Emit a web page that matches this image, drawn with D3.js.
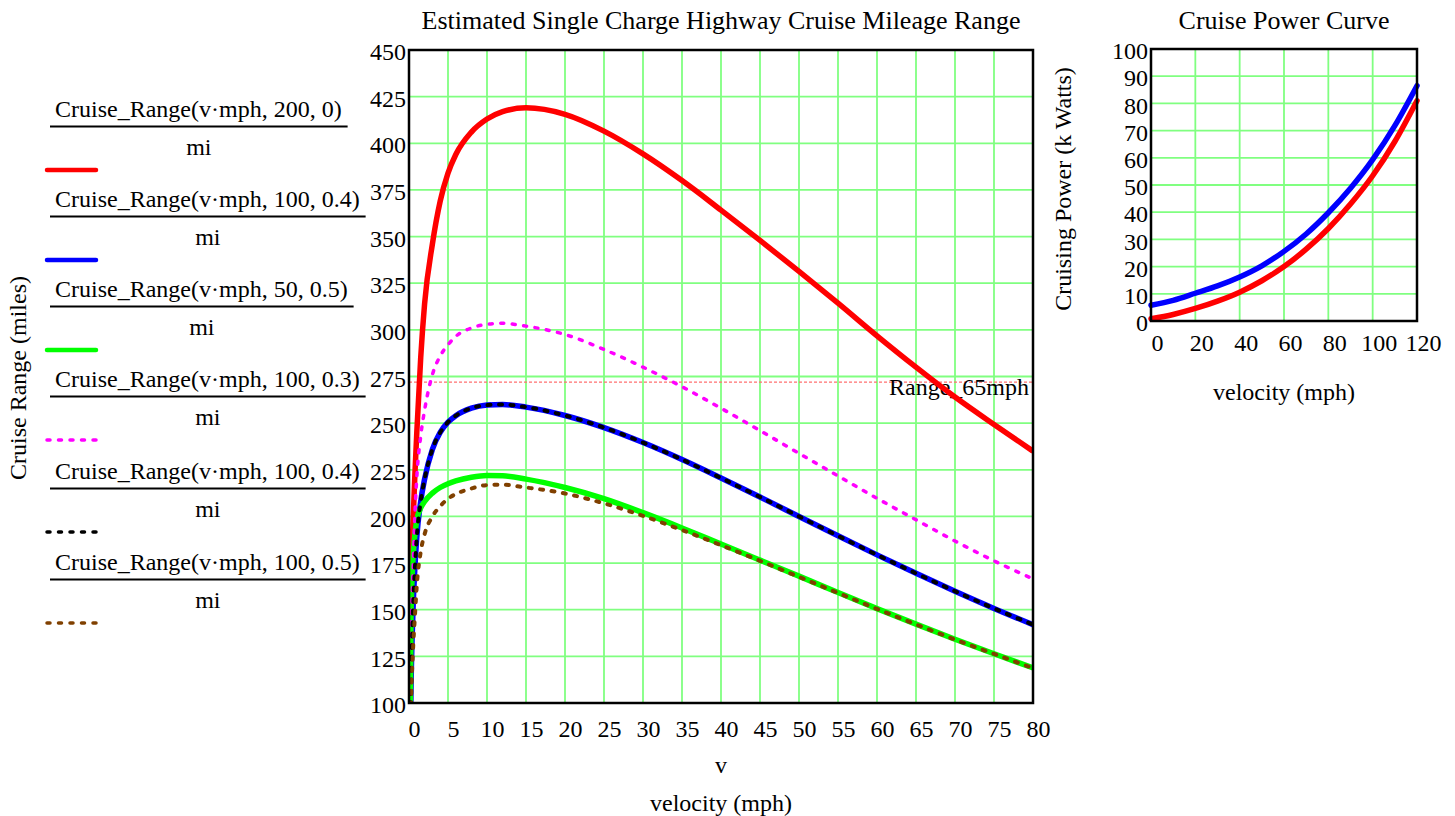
<!DOCTYPE html>
<html><head><meta charset="utf-8">
<script src="https://cdn.jsdelivr.net/npm/d3@7"></script>
<style>
html,body{margin:0;padding:0;background:#fff;}
svg{display:block;}
svg text{font-family:"Liberation Serif","Times New Roman",serif;fill:#000;}
</style></head><body>
<svg id="c" width="1455" height="816"></svg>
<script>
// ---------- DATA ----------
const vel = [0,0.25,0.5,0.75,1,1.5,2,3,4,5,6,8,10,12,15,20,25,30,35,40,45,50,55,60,65,70,75,80];
const rangeRed     = [0,160,195,222,245,285,314,346,369,384,394,406,413,417,419,415.5,406.5,394.3,380,364.2,348,331.3,314.3,296.8,280,264,249.3,235];
const rangeBlue    = [0,105,148,172,189,208,220,236,245,250.5,254,258,259.7,260,258.6,254.1,247.6,239.6,230.5,220.6,210.4,200,189.6,179.4,169.5,159.9,150.7,142];
const rangeGreen   = [0,145,176,190,198,204.5,208,212.5,215.5,217.5,219,221,222,221.8,220,215.5,209.5,202,193.8,185.2,176.6,168,159.2,150.6,142.3,134.2,126.4,118.8];
const rangeMagenta = [0,135,168,200,221,243,257,276,286,292,296.5,301,303,303.5,302,297.5,289.5,280,269.5,258,246,233.8,221.7,209.7,198.2,186.8,176.2,166.5];
const rangeBlack   = [0,105,148,172,189,208,220,236,245,250.5,254,258,259.7,260,258.6,254.1,247.6,239.6,230.5,220.6,210.4,200,189.6,179.4,169.5,159.9,150.7,142];
const rangeBrown   = [0,95,127,146,163,181,190.5,200,205.5,209.5,212,215,216.8,217,215.5,212.3,207,200.3,192.7,184.6,176.2,167.6,159,150.4,142.1,134,126.3,118.7];
const range65 = 272;
const range65Label = "Range_65mph";

const legendLabels = [
  "Cruise_Range(v·mph, 200, 0)",
  "Cruise_Range(v·mph, 100, 0.4)",
  "Cruise_Range(v·mph, 50, 0.5)",
  "Cruise_Range(v·mph, 100, 0.3)",
  "Cruise_Range(v·mph, 100, 0.4)",
  "Cruise_Range(v·mph, 100, 0.5)"
];
const legendUnit = "mi";

const xTicksMain = [0,5,10,15,20,25,30,35,40,45,50,55,60,65,70,75,80];
const yTicksMain = [100,125,150,175,200,225,250,275,300,325,350,375,400,425,450];

const powVel  = [0,10,20,30,40,50,60,70,80,90,100,110,120];
const powRed  = [0.8,2.4,4.6,7.3,10.6,14.8,20,26.4,34,43,53.4,66,81];
const powBlue = [5.8,7.6,10.2,12.9,16.2,20.3,25.6,32,39.8,48.8,59.3,71.8,86.5];
const xTicksPow = [0,20,40,60,80,100,120];
const yTicksPow = [0,10,20,30,40,50,60,70,80,90,100];

const titleMain = "Estimated Single Charge Highway Cruise Mileage Range";
const titlePow = "Cruise Power Curve";

// ---------- STYLE / LAYOUT ----------
const FS = 24, FT = 26;
const GRID = "#80ff80";
const svg = d3.select("#c");

const mainSeries = [
  {vals: rangeRed,     color:"#ff0000", w:5.5, dash:null},
  {vals: rangeBlue,    color:"#0000ff", w:5.5, dash:null},
  {vals: rangeGreen,   color:"#00ff00", w:5.5, dash:null},
  {vals: rangeMagenta, color:"#ff00ff", w:3.5, dash:"3,8.5"},
  {vals: rangeBlack,   color:"#000000", w:4,   dash:"3,8.5"},
  {vals: rangeBrown,   color:"#804000", w:4,   dash:"3,8.5"}
];

const M = {l:409, r:1033, t:50, b:703};
const x = d3.scaleLinear().domain([0,80]).range([M.l, M.r]);
const y = d3.scaleLinear().domain([100,450]).range([M.b, M.t]);

// grid
const gm = svg.append("g");
gm.selectAll("line.v").data(xTicksMain).join("line")
  .attr("x1", d=>x(d)).attr("x2", d=>x(d)).attr("y1", M.t).attr("y2", M.b)
  .attr("stroke", GRID).attr("stroke-width", 1.8);
gm.selectAll("line.h").data(yTicksMain).join("line")
  .attr("y1", d=>y(d)).attr("y2", d=>y(d)).attr("x1", M.l).attr("x2", M.r)
  .attr("stroke", GRID).attr("stroke-width", 1.8);

// range 65 line
svg.append("line").attr("x1", M.l).attr("x2", M.r).attr("y1", y(range65)).attr("y2", y(range65))
  .attr("stroke", "#ff7070").attr("stroke-width", 1.3).attr("stroke-dasharray", "3,2");
svg.append("text").attr("x", M.r - 4).attr("y", y(range65) + 13).attr("text-anchor","end")
  .attr("font-size", FS).text(range65Label);

// clip
svg.append("clipPath").attr("id","clipMain").append("rect")
  .attr("x", M.l).attr("y", M.t).attr("width", M.r-M.l).attr("height", M.b-M.t);

const lineMain = d3.line().x((d,i)=>x(vel[i])).y(d=>y(d)).curve(d3.curveMonotoneX);
const cg = svg.append("g").attr("clip-path","url(#clipMain)");
mainSeries.forEach(s=>{
  cg.append("path").datum(s.vals).attr("d", lineMain)
    .attr("fill","none").attr("stroke", s.color).attr("stroke-width", s.w)
    .attr("stroke-linecap", s.dash ? "round" : "butt").attr("stroke-linejoin","round")
    .attr("stroke-dasharray", s.dash);
});

// border
svg.append("rect").attr("x", M.l).attr("y", M.t).attr("width", M.r-M.l).attr("height", M.b-M.t)
  .attr("fill","none").attr("stroke","#000").attr("stroke-width", 2.5);

// axes labels
const ax = svg.append("g").attr("transform", `translate(5,${M.b})`)
  .call(d3.axisBottom(x).tickValues(xTicksMain).tickSize(0).tickPadding(17).tickFormat(d3.format("d")));
const ay = svg.append("g").attr("transform", `translate(${M.l},2)`)
  .call(d3.axisLeft(y).tickValues(yTicksMain).tickSize(0).tickPadding(3).tickFormat(d3.format("d")));
[ax, ay].forEach(g=>{
  g.attr("font-family", null).attr("font-size", null);
  g.select(".domain").remove();
  g.selectAll("text").attr("font-size", FS);
});

svg.append("text").attr("x", (M.l+M.r)/2).attr("y", 29).attr("text-anchor","middle")
  .attr("font-size", FT).text(titleMain);
svg.append("text").attr("x", (M.l+M.r)/2).attr("y", 773).attr("text-anchor","middle")
  .attr("font-size", FS).text("v");
svg.append("text").attr("x", (M.l+M.r)/2).attr("y", 811).attr("text-anchor","middle")
  .attr("font-size", FS).text("velocity (mph)");
svg.append("text").attr("transform","translate(26,378) rotate(-90)").attr("text-anchor","middle")
  .attr("font-size", FS).text("Cruise Range (miles)");

// legend
const legOff = [0,90,180,270,362,453];
legendLabels.forEach((lab,i)=>{
  const o = legOff[i];
  const t = svg.append("text").attr("x", 55).attr("y", 117+o).attr("font-size", FS).text(lab);
  const w = t.node().getComputedTextLength();
  svg.append("line").attr("x1", 50).attr("x2", 55+w+6).attr("y1", 126.5+o).attr("y2", 126.5+o)
    .attr("stroke","#000").attr("stroke-width", 2);
  svg.append("text").attr("x", (50+55+w+6)/2).attr("y", 155+o).attr("text-anchor","middle")
    .attr("font-size", FS).text(legendUnit);
  const s = mainSeries[i];
  svg.append("line").attr("x1", 47).attr("x2", 96).attr("y1", 170+o).attr("y2", 170+o)
    .attr("stroke", s.color).attr("stroke-width", s.dash ? 3.5 : 4.5)
    .attr("stroke-linecap","round").attr("stroke-dasharray", s.dash);
});

// ---------- POWER CHART ----------
const P = {l:1151, r:1417, t:49, b:321};
const xp = d3.scaleLinear().domain([0,120]).range([P.l, P.r]);
const yp = d3.scaleLinear().domain([0,100]).range([P.b, P.t]);
const gp = svg.append("g");
gp.selectAll("line.v").data(xTicksPow).join("line")
  .attr("x1", d=>xp(d)).attr("x2", d=>xp(d)).attr("y1", P.t).attr("y2", P.b)
  .attr("stroke", GRID).attr("stroke-width", 1.8);
gp.selectAll("line.h").data(yTicksPow).join("line")
  .attr("y1", d=>yp(d)).attr("y2", d=>yp(d)).attr("x1", P.l).attr("x2", P.r)
  .attr("stroke", GRID).attr("stroke-width", 1.8);

const linePow = d3.line().x((d,i)=>xp(powVel[i])).y(d=>yp(d)).curve(d3.curveMonotoneX);
[[powRed,"#ff0000"],[powBlue,"#0000ff"]].forEach(([v,c])=>{
  svg.append("path").datum(v).attr("d", linePow).attr("fill","none")
    .attr("stroke", c).attr("stroke-width", 5.5).attr("stroke-linecap","round");
});
svg.append("rect").attr("x", P.l).attr("y", P.t).attr("width", P.r-P.l).attr("height", P.b-P.t)
  .attr("fill","none").attr("stroke","#000").attr("stroke-width", 2.5);

const axp = svg.append("g").attr("transform", `translate(6,${P.b})`)
  .call(d3.axisBottom(xp).tickValues(xTicksPow).tickSize(0).tickPadding(13).tickFormat(d3.format("d")));
const ayp = svg.append("g").attr("transform", `translate(${P.l},2)`)
  .call(d3.axisLeft(yp).tickValues(yTicksPow).tickSize(0).tickPadding(3).tickFormat(d3.format("d")));
[axp, ayp].forEach(g=>{
  g.attr("font-family", null).attr("font-size", null);
  g.select(".domain").remove();
  g.selectAll("text").attr("font-size", FS);
});
svg.append("text").attr("x", (P.l+P.r)/2).attr("y", 29).attr("text-anchor","middle")
  .attr("font-size", FT).text(titlePow);
svg.append("text").attr("x", (P.l+P.r)/2).attr("y", 400).attr("text-anchor","middle")
  .attr("font-size", FS).text("velocity (mph)");
svg.append("text").attr("transform","translate(1071,189) rotate(-90)").attr("text-anchor","middle")
  .attr("font-size", FS).text("Cruising Power (k Watts)");
</script>
</body></html>
